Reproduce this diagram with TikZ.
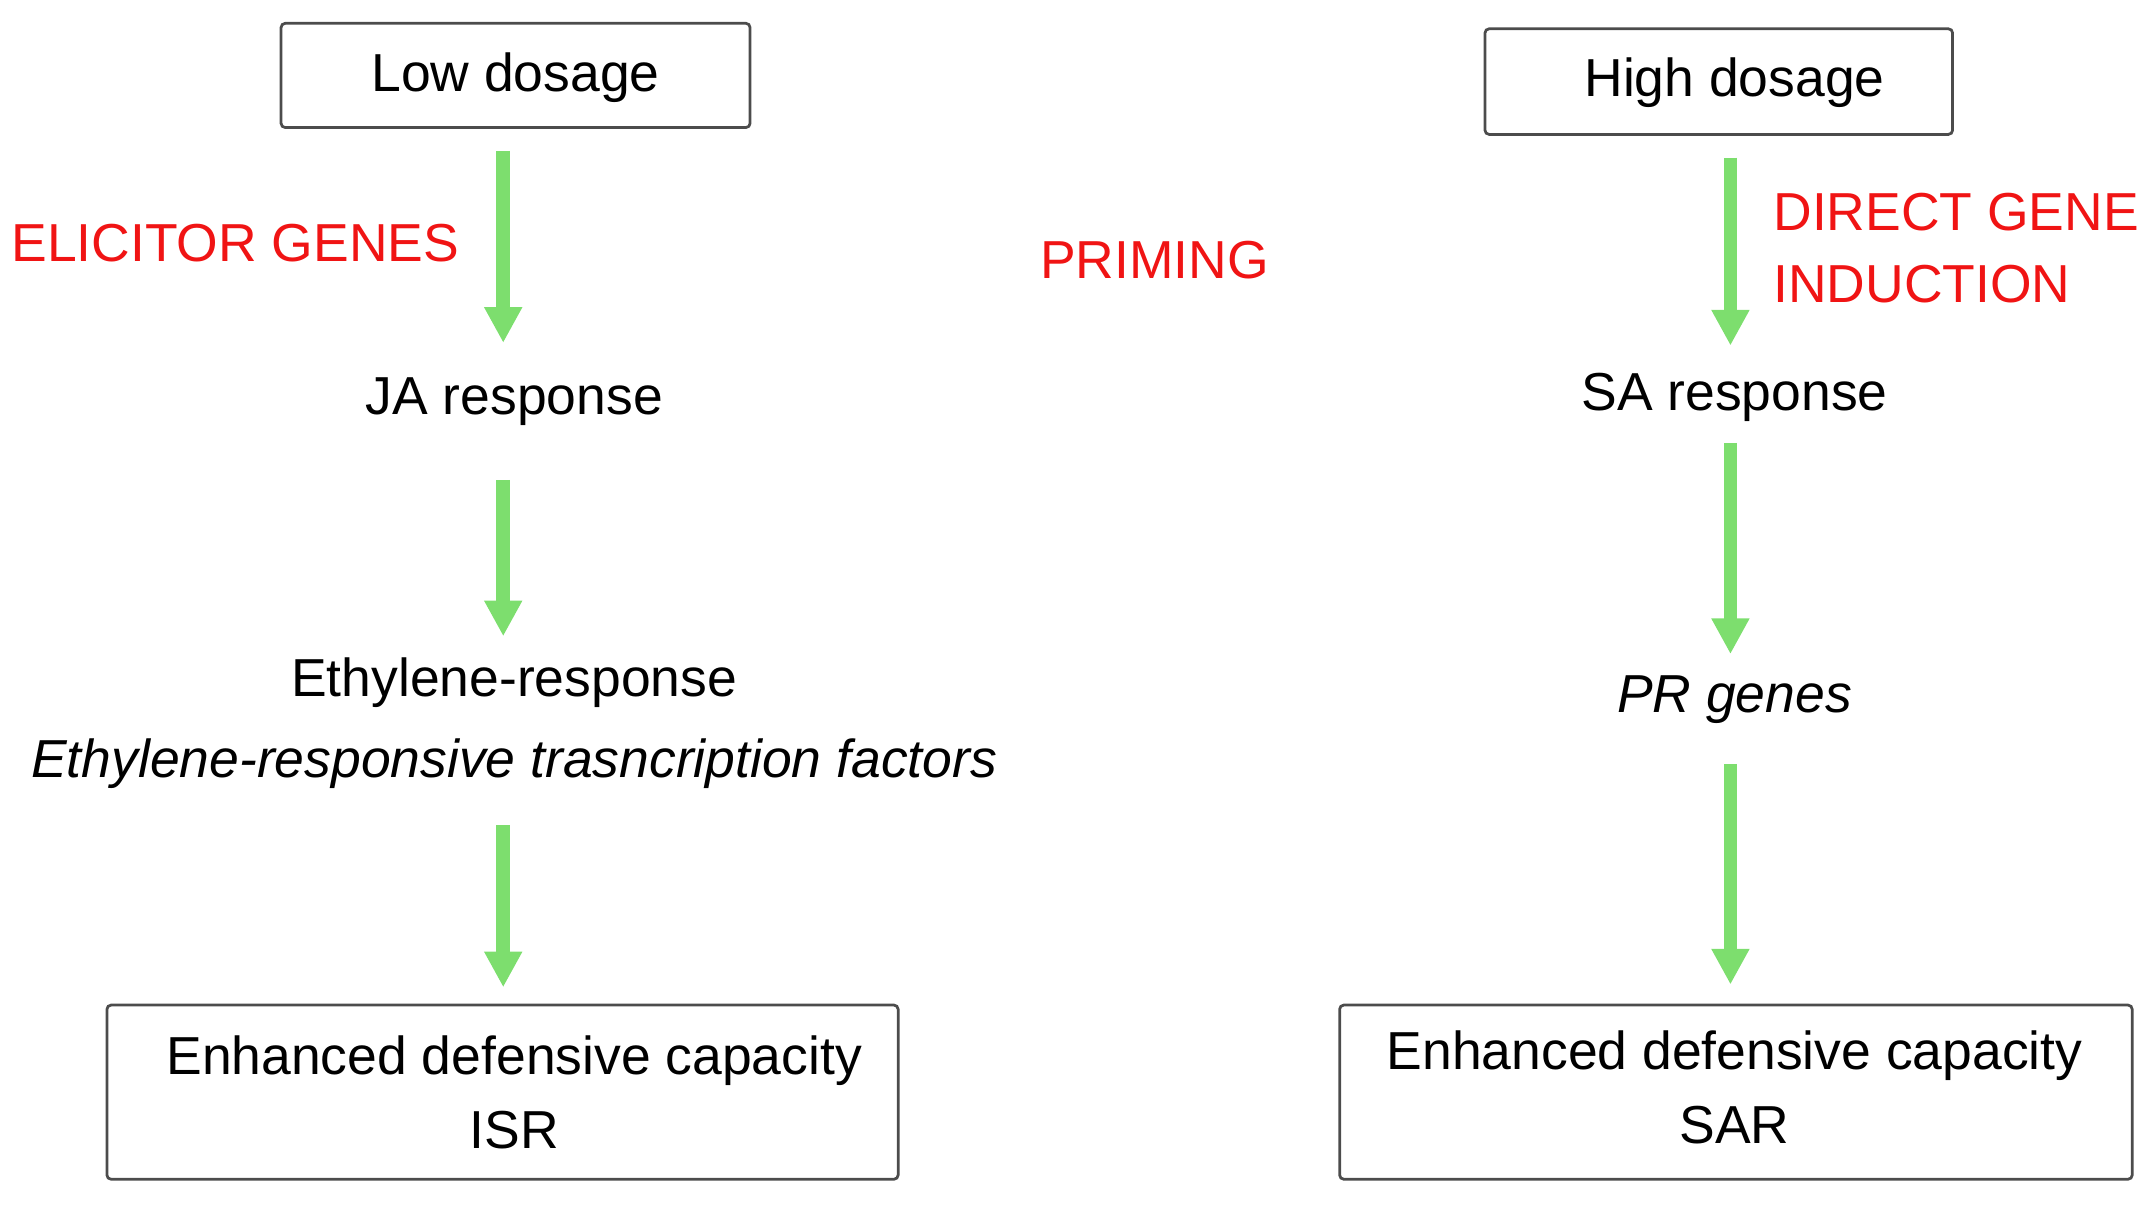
\documentclass[tikz,border=0pt]{standalone}
\usepackage{fontspec}
\setmainfont{Liberation Sans}
\usetikzlibrary{arrows.meta}
\definecolor{garrow}{RGB}{125,222,110}
\definecolor{lred}{RGB}{240,20,20}
\begin{document}
\begin{tikzpicture}[x=0.5pt,y=-0.5pt,
  box/.style={draw=black!70,line width=1pt,rounded corners=1.5pt,inner sep=0pt},
  txt/.style={font=\fontsize{19.5}{23}\selectfont,inner sep=0pt},
  lab/.style={txt,text=lred,align=left},
  arr/.style={draw=garrow,line width=5pt,-{Triangle[length=13pt,width=13pt]}}]
\useasboundingbox (0,0) rectangle (1568,880);
\node[box,minimum width=171pt,minimum height=38pt] (low) at (376,55) {};
\node[txt] (lowt) at (376,57) {Low dosage};
\node[box,minimum width=170.5pt,minimum height=38.5pt] (high) at (1253.5,59.5) {};
\node[txt] (hight) at (1265,60) {High dosage};
\node[box,minimum width=288.5pt,minimum height=63.5pt] (isr) at (366.5,796.5) {};
\node[txt,align=center] (isrt) at (375,797) {Enhanced defensive capacity\\[4pt]ISR};
\node[box,minimum width=289pt,minimum height=63.5pt] (sar) at (1266,796.5) {};
\node[txt,align=center] (sart) at (1265,793) {Enhanced defensive capacity\\[4pt]SAR};
\node[txt] (ja) at (375,293) {JA response};
\node[txt] (eth) at (375,498) {Ethylene-response};
\node[txt] (ethf) at (375,557) {\itshape Ethylene-responsive trasncription factors};
\node[txt] (sa) at (1265,290) {SA response};
\node[txt] (pr) at (1265,510) {\itshape PR genes};
\node[lab,anchor=west] (elic) at (8,177) {ELICITOR GENES};
\node[lab] (prim) at (842,190) {PRIMING};
\node[lab,anchor=west] (dir) at (1293,181) {DIRECT GENE\\[3pt]INDUCTION};
\coordinate (a1) at (367,110); \coordinate (a1e) at (367,250);
\coordinate (a2) at (367,350); \coordinate (a2e) at (367,464);
\coordinate (a3) at (367,602); \coordinate (a3e) at (367,720);
\coordinate (b1) at (1262,115); \coordinate (b1e) at (1262,252);
\coordinate (b2) at (1262,323); \coordinate (b2e) at (1262,477);
\coordinate (b3) at (1262,557); \coordinate (b3e) at (1262,718);
\draw[arr] (a1) -- (a1e);
\draw[arr] (a2) -- (a2e);
\draw[arr] (a3) -- (a3e);
\draw[arr] (b1) -- (b1e);
\draw[arr] (b2) -- (b2e);
\draw[arr] (b3) -- (b3e);
\end{tikzpicture}
\end{document}
